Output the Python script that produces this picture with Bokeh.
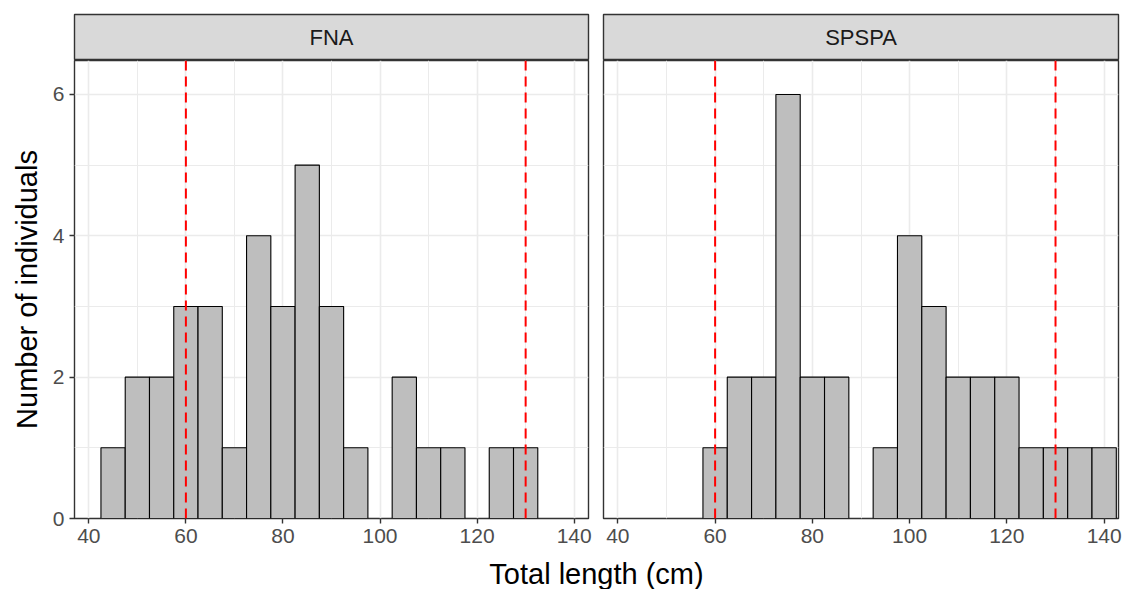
from bokeh.plotting import figure
from bokeh.models import Range1d, FixedTicker, Span, Label, ColumnDataSource
from bokeh.layouts import row, column
from bokeh.embed import file_html
from bokeh.resources import INLINE

# ---- data ----
bin_centers = [45, 50, 55, 60, 65, 70, 75, 80, 85, 90, 95, 100, 105, 110, 115, 120, 125, 130, 135, 140]
fna_counts = [1, 2, 2, 3, 3, 1, 4, 3, 5, 3, 1, 0, 2, 1, 1, 0, 1, 1, 0, 0]
spspa_counts = [0, 0, 0, 1, 2, 2, 6, 2, 2, 0, 1, 4, 3, 2, 2, 2, 1, 1, 1, 1]
bin_width = 5
facets = ["FNA", "SPSPA"]
ref_lines = [60, 130]
x_ticks = [40, 60, 80, 100, 120, 140]
x_minor = [50, 70, 90, 110, 130]
y_ticks = [0, 2, 4, 6]
y_minor = [1, 3, 5]
x_title = "Total length (cm)"
y_title = "Number of individuals"

FONT = "Liberation Sans"
XR = (37.05, 142.95)
YR = (0, 6.48)


def strip(label, left, right, frame_w):
    s = figure(width=left + frame_w + right, height=14 + 46, x_range=Range1d(0, 1), y_range=Range1d(0, 1),
               x_axis_location=None, y_axis_location=None, toolbar_location=None,
               output_backend="svg", min_border_left=left, min_border_right=right,
               min_border_top=14, min_border_bottom=0)
    s.grid.visible = False
    s.background_fill_color = "#D9D9D9"
    s.border_fill_color = "white"
    s.outline_line_color = "#333333"
    s.outline_line_width = 1.4
    s.add_layout(Label(x=0.5, y=0.5, text=label, text_align="center", text_baseline="middle",
                       text_font=FONT, text_font_size="22px", text_color="#1A1A1A"))
    return s


def panel(counts, left, right, frame_w, show_y):
    p = figure(width=left + frame_w + right, height=458 + 38, x_range=Range1d(*XR), y_range=Range1d(*YR),
               toolbar_location=None, output_backend="svg",
               min_border_left=left, min_border_right=right, min_border_top=0, min_border_bottom=38)
    p.background_fill_color = "white"
    p.border_fill_color = "white"
    p.outline_line_color = "#333333"
    p.outline_line_width = 1.4

    xt = FixedTicker(ticks=x_ticks, minor_ticks=x_minor)
    yt = FixedTicker(ticks=y_ticks, minor_ticks=y_minor)
    p.xaxis.ticker = xt
    p.yaxis.ticker = yt
    p.xgrid.ticker = xt
    p.ygrid.ticker = yt
    for g in (p.xgrid, p.ygrid):
        g.grid_line_color = "#EBEBEB"
        g.grid_line_width = 1.6
        g.minor_grid_line_color = "#EBEBEB"
        g.minor_grid_line_width = 1.0

    for ax in (p.xaxis, p.yaxis):
        ax.axis_line_color = None
        ax.major_tick_line_color = "#333333"
        ax.major_tick_line_width = 1.4
        ax.major_tick_out = 5
        ax.major_tick_in = 0
        ax.minor_tick_line_color = None
        ax.major_label_text_font = FONT
        ax.major_label_text_font_size = "21px"
        ax.major_label_text_color = "#4D4D4D"
    p.xaxis.major_label_standoff = 5
    p.yaxis.major_label_standoff = 5

    if show_y:
        p.yaxis.axis_label = y_title
        p.yaxis.axis_label_text_font = FONT
        p.yaxis.axis_label_text_font_size = "29px"
        p.yaxis.axis_label_text_font_style = "normal"
        p.yaxis.axis_label_text_color = "black"
        p.yaxis.axis_label_standoff = 7
    else:
        p.yaxis.visible = False

    xs = [c for c, n in zip(bin_centers, counts) if n > 0]
    ns = [n for n in counts if n > 0]
    src = ColumnDataSource(dict(x=xs, top=ns))
    p.vbar(x="x", top="top", bottom=0, width=bin_width, source=src,
           fill_color="#BEBEBE", line_color="black", line_width=1.1)

    for loc in ref_lines:
        p.add_layout(Span(location=loc, dimension="height", line_color="red",
                          line_width=2, line_dash="10 6"))
    return p


LW, LR, LF = 74, 7, 514
RW, RR, RF = 8, 8, 515

left_col = column(strip(facets[0], LW, LR, LF), panel(fna_counts, LW, LR, LF, True), spacing=0)
right_col = column(strip(facets[1], RW, RR, RF), panel(spspa_counts, RW, RR, RF, False), spacing=0)
top = row(left_col, right_col, spacing=0)

total_w = LW + LR + LF + RW + RR + RF
TH = 33
t = figure(width=total_w, height=TH, x_range=Range1d(0, total_w), y_range=Range1d(0, TH),
           x_axis_location=None, y_axis_location=None, toolbar_location=None, output_backend="svg",
           min_border_left=0, min_border_right=0, min_border_top=0, min_border_bottom=0)
t.grid.visible = False
t.outline_line_color = None
t.add_layout(Label(x=LW + (LF + LR + RW + RF) / 2, y=16, text=x_title, text_align="center",
                   text_baseline="middle", text_font=FONT, text_font_size="29px", text_color="black"))

layout = column(top, t, spacing=0)

open("out.html", "w").write(file_html(layout, INLINE))
